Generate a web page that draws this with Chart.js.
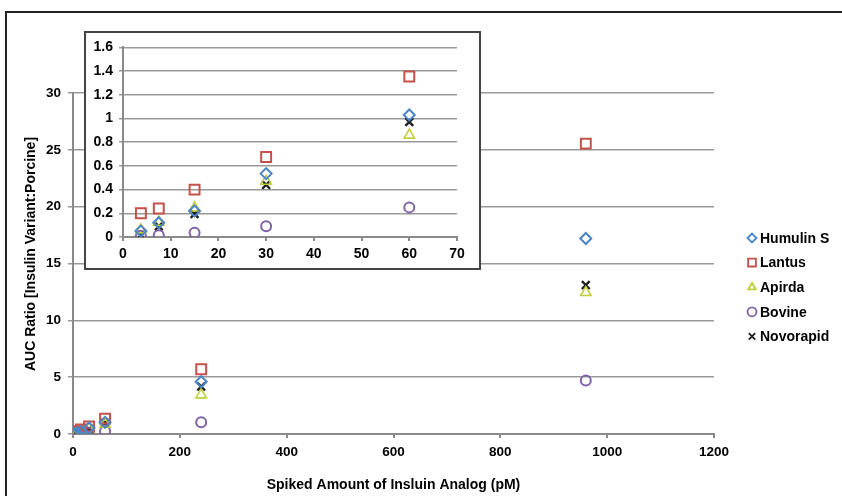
<!DOCTYPE html>
<html><head><meta charset="utf-8">
<script src="https://cdn.jsdelivr.net/npm/chart.js@4.4.0/dist/chart.umd.min.js"></script>
<style>
html,body{margin:0;padding:0;background:#fff;overflow:hidden;width:842px;height:496px}
#frame{position:absolute;left:5px;top:11px;width:900px;height:600px;border-left:2px solid #222;border-top:2px solid #222}
#main{position:absolute;left:0;top:0}
#insetBox{position:absolute;left:84px;top:31px;width:393px;height:235px;border:2px solid #444;background:#fff}
#inset{display:block}
</style></head><body>
<div id="frame"></div>
<canvas id="main" width="842" height="496"></canvas>
<div id="insetBox"><canvas id="inset" width="393" height="235"></canvas></div>
<script>
// ---- data ----
const spikedAmounts = [3.75, 7.5, 15, 30, 60, 240, 960];
const humulinS  = [0.05, 0.12, 0.22, 0.535, 1.03, 4.6, 17.2];
const lantus    = [0.20, 0.24, 0.40, 0.675, 1.355, 5.7, 25.55];
const apirda    = [0.06, 0.125, 0.245, 0.47, 0.86, 3.44, 12.45];
const bovine    = [0.01, 0.015, 0.035, 0.09, 0.25, 1.03, 4.7];
const novorapid = [0.015, 0.09, 0.195, 0.44, 0.97, 4.17, 13.1];
const seriesNames = ['Humulin S', 'Lantus', 'Apirda', 'Bovine', 'Novorapid'];
const mainXTicks = [0, 200, 400, 600, 800, 1000, 1200];
const mainYTicks = [0, 5, 10, 15, 20, 25, 30];
const insetXTicks = [0, 10, 20, 30, 40, 50, 60, 70];
const insetYTicks = [0, 0.2, 0.4, 0.6, 0.8, 1, 1.2, 1.4, 1.6];
const insetCount = 5; // inset shows the first five spiked amounts
const xTitle = 'Spiked Amount of Insluin Analog (pM)';
const yTitle = 'AUC Ratio [Insulin Variant:Porcine]';

// ---- styles ----
const seriesValues = [humulinS, lantus, apirda, bovine, novorapid];
const styles = [
  {color:'#4a86c6', pointStyle:'rectRot', radius:5.5, bw:2},
  {color:'#c8504a', pointStyle:'rect', radius:7, bw:2},
  {color:'#c2cf3c', pointStyle:'triangle', radius:6, bw:1.6},
  {color:'#7f62a8', pointStyle:'circle', radius:5, bw:2},
  {color:'#1e1e1e', pointStyle:'crossRot', radius:5.5, bw:2.4}
];
const FONT = "'Liberation Sans', Arial, sans-serif";

function makeDatasets(n) {
  return seriesNames.map((name, i) => ({
    label: name,
    data: spikedAmounts.slice(0, n).map((x, j) => ({x: x, y: seriesValues[i][j]})),
    showLine: false,
    pointStyle: styles[i].pointStyle,
    pointRadius: styles[i].radius,
    pointBorderWidth: styles[i].bw,
    borderColor: styles[i].color,
    backgroundColor: 'rgba(0,0,0,0)',
    pointBackgroundColor: 'rgba(0,0,0,0)'
  }));
}
function fixedTicks(arr) { return s => { s.ticks = arr.map(v => ({value: v})); }; }

// custom legend at right + y-axis title
const legendPlugin = {
  id: 'sideLegend',
  afterDraw(chart) {
    const ctx = chart.ctx;
    ctx.save();
    seriesNames.forEach((name, i) => {
      const y = 238 + i * 24.6;
      const st = styles[i];
      ctx.strokeStyle = st.color;
      ctx.fillStyle = 'rgba(0,0,0,0)';
      ctx.lineWidth = 1.8;
      const opts = {pointStyle: st.pointStyle, radius: i === 1 ? 5.5 : 4.5, rotation: 0, borderWidth: 1.8};
      if (Chart.helpers && Chart.helpers.drawPoint) {
        Chart.helpers.drawPoint(ctx, opts, 752, y);
      }
      ctx.fillStyle = '#000';
      ctx.font = 'bold 14px ' + FONT;
      ctx.textBaseline = 'middle';
      ctx.textAlign = 'left';
      ctx.fillText(name, 760, y + 1);
    });
    // y-axis title
    ctx.translate(31, 254);
    ctx.rotate(-Math.PI / 2);
    ctx.fillStyle = '#000';
    ctx.font = 'bold 14px ' + FONT;
    ctx.textAlign = 'center';
    ctx.textBaseline = 'middle';
    ctx.fillText(yTitle, 0, 0);
    ctx.restore();
  }
};

new Chart(document.getElementById('main'), {
  type: 'scatter',
  data: {datasets: makeDatasets(spikedAmounts.length)},
  options: {
    responsive: false, animation: false, devicePixelRatio: 1,
    layout: {padding: {left: 10, top: 93, right: 128, bottom: 0}},
    plugins: {legend: {display: false}, tooltip: {enabled: false}},
    scales: {
      x: {
        type: 'linear', min: 0, max: 1200,
        afterBuildTicks: fixedTicks(mainXTicks),
        afterFit: s => { s.height = 62; },
        ticks: {color: '#000', font: {family: FONT, size: 13.5, weight: 'bold'}, padding: 6, maxRotation: 0,
                callback: v => String(v)},
        grid: {drawOnChartArea: false, tickLength: 4, color: '#8a8a8a', lineWidth: 2},
        border: {color: '#8a8a8a', width: 2},
        title: {display: true, text: xTitle, color: '#000', font: {family: FONT, size: 14, weight: 'bold'}, padding: {top: 4, bottom: 2}}
      },
      y: {
        type: 'linear', min: 0, max: 30,
        afterBuildTicks: fixedTicks(mainYTicks),
        afterFit: s => { s.width = 63; },
        ticks: {color: '#000', font: {family: FONT, size: 13.5, weight: 'bold'}, padding: 7},
        grid: {color: '#999', lineWidth: 1.5, tickLength: 5},
        border: {color: '#8a8a8a', width: 2},
        title: {display: false}
      }
    }
  },
  plugins: [legendPlugin]
});

new Chart(document.getElementById('inset'), {
  type: 'scatter',
  data: {datasets: makeDatasets(insetCount)},
  options: {
    responsive: false, animation: false, devicePixelRatio: 1,
    layout: {padding: {left: 1, top: 13, right: 22, bottom: 0}},
    plugins: {legend: {display: false}, tooltip: {enabled: false}},
    scales: {
      x: {
        type: 'linear', min: 0, max: 70,
        afterBuildTicks: fixedTicks(insetXTicks),
        afterFit: s => { s.height = 31; },
        ticks: {color: '#000', font: {family: FONT, size: 14, weight: 'bold'}, padding: 5, maxRotation: 0,
                callback: v => String(v)},
        grid: {drawOnChartArea: false, tickLength: 4, color: '#8a8a8a', lineWidth: 2},
        border: {color: '#8a8a8a', width: 2}
      },
      y: {
        type: 'linear', min: 0, max: 1.6,
        afterBuildTicks: fixedTicks(insetYTicks),
        afterFit: s => { s.width = 36; },
        ticks: {color: '#000', font: {family: FONT, size: 14, weight: 'bold'}, padding: 6,
                callback: v => String(Math.round(v * 10) / 10)},
        grid: {color: '#999', lineWidth: 1.5, tickLength: 4},
        border: {color: '#8a8a8a', width: 2}
      }
    }
  }
});
</script>
</body></html>
